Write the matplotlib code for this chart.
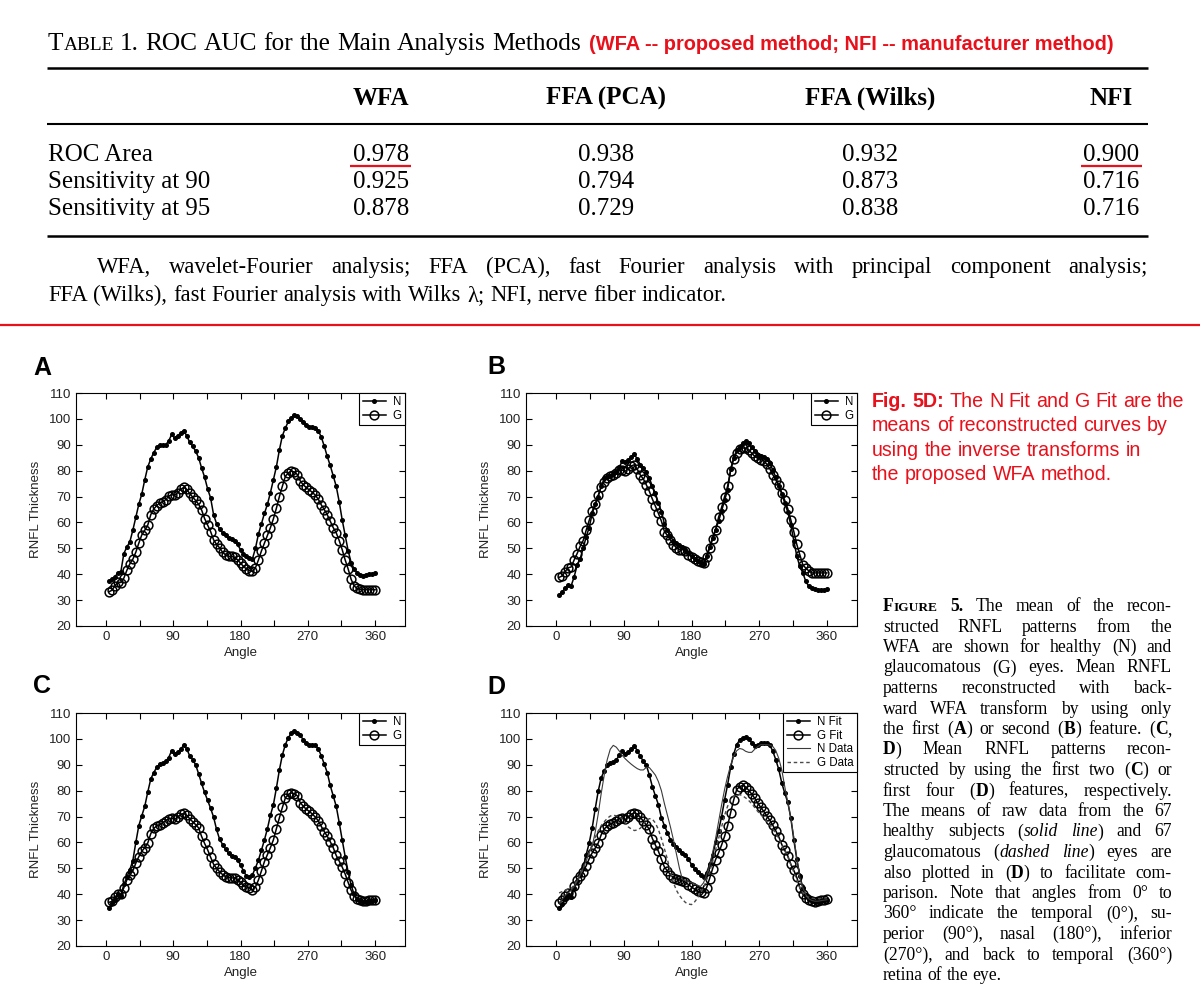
#!/usr/bin/env python
"""Table 1 (ROC AUC) and Figure 5 (mean reconstructed RNFL patterns)."""
import re

import matplotlib
matplotlib.use("Agg")
import matplotlib.pyplot as plt
from matplotlib.lines import Line2D
import numpy as np

W, H = 1200, 1000
RED = "#e8101a"
SERIF = "Liberation Serif"
SANS = "Liberation Sans"

# ---- table data ----
COLUMNS = ["WFA", "FFA (PCA)", "FFA (Wilks)", "NFI"]
ROWS = ["ROC Area", "Sensitivity at 90", "Sensitivity at 95"]
VALUES = [[0.978, 0.938, 0.932, 0.900],
          [0.925, 0.794, 0.873, 0.716],
          [0.878, 0.729, 0.838, 0.716]]

# ---- curves, sampled every 4 degrees ----
ANGLE = np.arange(4, 361, 4)
A_N = [37.5, 38, 39, 40.5, 41, 48, 50.5, 52.5, 57, 62,
       67, 71, 76.5, 81.5, 84.5, 87, 89, 89.8, 90, 90,
       91.5, 94, 92.5, 93.5, 94.5, 95.5, 93.5, 91, 89.5, 87.5,
       85, 81, 77.5, 73, 69.5, 63, 59.5, 57.5, 56, 55,
       53.8, 53.5, 53, 51.5, 49.5, 48, 47, 46.3, 46, 50,
       55.5, 59.5, 63.5, 67, 71.5, 76.5, 81.5, 88, 93.5, 96.5,
       99, 100.5, 101.5, 101, 100, 98.8, 97.5, 97, 96.8, 96.5,
       95.5, 93, 89.5, 85.5, 82, 78, 74, 68, 61, 55,
       49, 44.5, 42, 40.5, 39.8, 39.5, 39.8, 40, 40, 40.5]
A_G = [33.2, 33.8, 35.5, 37, 36.8, 38.5, 41.5, 44, 45.8, 48.5,
       52, 55.2, 57, 59, 63, 65.2, 66.5, 67.6, 68, 68.8,
       70.2, 70.7, 70.5, 71.5, 72.8, 73.5, 72.8, 71.2, 69.8, 68.5,
       67, 64.8, 61.5, 59, 56.5, 53.3, 51.5, 50.2, 48.5, 47.5,
       46.9, 46.9, 46.5, 45.6, 44.3, 43, 42, 41.4, 41.1, 42.5,
       45.5, 49, 52, 55, 58, 61.4, 65.5, 70, 74, 77.8,
       79.2, 79.8, 79.5, 78.5, 76, 74.5, 73.5, 72.5, 71.7, 70.5,
       69, 66.8, 65, 63, 60.5, 58, 56, 53, 49.5, 45.5,
       42, 38, 35.5, 34.5, 34.2, 34, 34, 34, 34, 34]
B_N = [32, 33.2, 34.5, 35.7, 35.5, 39, 43.5, 46, 50, 54.5,
       58, 63.5, 67, 70, 74, 77, 77.6, 78, 78.6, 79.4,
       81.5, 83.6, 83.2, 84, 85.2, 86.3, 84.5, 82.3, 81, 79.4,
       77, 74, 71.2, 67.5, 64.2, 59.5, 57, 54.8, 52.7, 52,
       51.2, 50.5, 49.5, 48.2, 47, 46, 45, 44.3, 43.8, 47,
       50.5, 54, 57.2, 60.5, 64.5, 68.5, 72.7, 80.5, 85, 87.8,
       89.2, 90.5, 91.6, 90.5, 89, 87.5, 86.2, 85.8, 85.3, 84.6,
       82.8, 80.3, 77.5, 74.2, 71, 67.5, 64, 59, 53, 47,
       43, 40.5, 37.2, 35.3, 34.5, 34.1, 34, 34, 34, 34.3]
B_G = [38.8, 39.3, 41, 42.5, 42.8, 45.5, 48, 50.8, 53, 57,
       60.8, 64.3, 67, 70.5, 73.8, 75.8, 77, 77.9, 78.3, 79,
       80.2, 80.2, 79.8, 80.8, 81.8, 82.3, 80.5, 78.3, 76.8, 74.5,
       72, 69, 66.3, 63.5, 60.5, 56.5, 55, 53.2, 51.4, 50.3,
       49.5, 49.5, 49, 47.6, 46.7, 45.8, 45, 44.6, 44.4, 46.5,
       50, 53.5, 57.2, 62, 65.8, 70, 74, 80, 84.5, 87,
       88.3, 88.8, 88.6, 88, 86.8, 85.5, 84.8, 84.3, 83.8, 82.6,
       80.8, 78.5, 76.4, 74.3, 71.5, 68.5, 65.3, 61, 56.5, 51.5,
       47.5, 43.7, 42.3, 41.3, 40.5, 40.5, 40.5, 40.5, 40.5, 40.5]
C_N = [34.5, 36.5, 37.8, 39.9, 39.5, 43.8, 46.5, 49.5, 53, 60,
       66.5, 70.3, 74, 79.5, 84.5, 87, 89, 90.2, 90.6, 91.3,
       92.8, 95.5, 94.2, 94.8, 96, 97.5, 96.2, 93.5, 92, 90,
       86.5, 82.8, 79.3, 76.3, 73.2, 69.8, 65, 61.3, 59.2, 57.4,
       55.8, 54.9, 54.5, 53.4, 51.3, 49, 47, 46.5, 47.5, 50.2,
       53.2, 57, 61, 65.3, 70.5, 74.6, 81, 88, 93.8, 97.8,
       100.5, 102.2, 102.9, 102.4, 101.4, 99.6, 98.5, 97.8, 97.8, 97.6,
       96.2, 93.5, 90.3, 87, 82, 78, 74, 67.7, 61, 54.5,
       48.5, 43.5, 39.9, 38.3, 37.4, 36.9, 37, 37.2, 37.5, 37.7]
C_G = [36.9, 37.2, 38.8, 40.2, 39.9, 42.5, 45.5, 47.4, 49, 52,
       54.5, 56.6, 58, 59.8, 63.4, 65.4, 66.4, 66.9, 67.6, 68.4,
       69.2, 69.3, 68.9, 69.8, 70.8, 71.2, 70.5, 69.2, 68, 66.9,
       65.6, 62.3, 59.6, 57.2, 54.3, 51.6, 50, 48.7, 47.6, 46.8,
       46.4, 46.3, 46.3, 45.5, 44.6, 43.4, 42.8, 42.4, 41.7, 42.8,
       45.5, 49, 52.6, 55.3, 58, 61, 65.3, 69.5, 73.5, 77.2,
       78.6, 79.1, 78.8, 78, 75.3, 74, 72.8, 72, 71, 69.8,
       68.4, 66.2, 64.2, 62.4, 60.3, 58, 55, 52.8, 50.5, 47.8,
       44.5, 41.5, 39.4, 38.2, 37.6, 37.3, 37.4, 37.6, 37.8, 37.9]
D_NFIT = [34.6, 36.2, 38, 39.5, 38.8, 42.5, 45.2, 47.5, 50.2, 55.3,
          59.8, 65.6, 73, 79.8, 85, 87.7, 89.8, 90.6, 91, 91.8,
          93.8, 95.3, 94.2, 94.8, 96, 97.2, 95.5, 93.2, 91.4, 89.8,
          86, 81.5, 78, 74.6, 69.5, 66.5, 63.8, 61, 59.5, 58.2,
          57, 56.1, 55.2, 53.6, 51.4, 49.9, 48.6, 47.6, 46.6, 48.2,
          51.5, 55, 60, 64.5, 70, 76.5, 82.3, 89, 94, 97.8,
          99.5, 100.4, 100.7, 100, 98.6, 97.4, 97.6, 98.4, 98.6, 98.3,
          97.6, 95.3, 92, 88.2, 83, 79, 75.5, 69.5, 61, 53.5,
          47, 42.5, 39.6, 38.2, 37.4, 36.9, 37.1, 37.4, 37.6, 37.9]
D_GFIT = [36.6, 37.7, 39.2, 40.4, 39.9, 43, 45.4, 47, 48.7, 51,
          53.7, 56, 57.8, 59.8, 63, 65.2, 66.3, 67, 67.6, 68.3,
          69.2, 69.3, 68.9, 69.8, 70.9, 71.4, 71, 69.7, 68.2, 66.7,
          65, 61.5, 59, 56.6, 53.5, 50.5, 49, 47.6, 46.3, 45.9,
          45.5, 45.2, 44.6, 43.7, 42.8, 42, 41.1, 40.8, 40.6, 42.5,
          46, 49.8, 53.4, 56, 59, 62.4, 66.5, 71.5, 76.3, 80.4,
          81.6, 82, 81.4, 80.2, 78.7, 77.1, 75.2, 73.6, 72, 70.3,
          68.6, 66.7, 64.5, 62.2, 59.2, 57, 54.8, 51.6, 49.2, 46.5,
          42.5, 40, 38.5, 37.6, 37.2, 36.9, 37.2, 37.6, 37.9, 38.2]
D_NDATA = [36.5, 38, 39.5, 40.5, 41.5, 43, 45, 47.5, 50, 53,
           56, 58.5, 64, 71, 79, 86, 92, 96, 97.5, 96.8,
           95.3, 93.6, 92.3, 91.2, 90.2, 89.3, 88.5, 88, 88, 89,
           88.9, 87.5, 86, 83.5, 80, 75, 70.5, 66, 61, 55.5,
           50, 45.6, 45.2, 44.8, 44.4, 44, 43.5, 43, 44.4, 47.5,
           51, 56, 61.5, 68, 74.5, 80.5, 85.5, 89.8, 93.2, 95.4,
           96.3, 96, 95.2, 94.8, 94.8, 96, 97, 97.8, 97.8, 97.8,
           97.6, 97.1, 95.5, 92.5, 88, 81.5, 75.5, 69.5, 62, 54,
           46.5, 42.5, 39.8, 38.2, 37.6, 37.3, 37.3, 37.5, 37.7, 37.9]
D_GDATA = [40.5, 41, 41.5, 42, 42.3, 43.5, 45.5, 47.5, 50, 53,
           56, 59, 62, 64.5, 66.5, 68, 69.3, 70.2, 70.5, 70.3,
           70, 69, 67.5, 66, 65.2, 64.6, 64.8, 65.5, 67, 68.5,
           69.2, 69, 67.5, 65, 61.5, 57.5, 53.5, 48.5, 44.4, 41.5,
           39.5, 38, 36.8, 36.2, 36, 37, 38.5, 40.5, 42.5, 45.5,
           48.5, 52.5, 57.2, 61.5, 66, 70.5, 74, 76.5, 77.8, 78.3,
           78.5, 78, 77.2, 76.2, 75, 73.5, 72, 70.8, 69.5, 68.2,
           66.8, 65.2, 63.5, 61.5, 59, 56.8, 54.5, 51.5, 48.5, 45.5,
           42.5, 40.5, 39.3, 38.8, 38.5, 38.3, 38.3, 38.4, 38.5, 38.6]

# ---- texts (* bold, _ italic, ^ small caps, ~ bold small caps) ----
TABLE_TITLE = "T^ABLE^ 1. ROC AUC for the Main Analysis Methods"
TABLE_NOTE_RED = "(WFA -- proposed method; NFI -- manufacturer method)"
TABLE_FOOT = ["WFA, wavelet-Fourier analysis; FFA (PCA), fast Fourier analysis "
              "with principal component analysis;",
              "FFA (Wilks), fast Fourier analysis with Wilks \u03bb; NFI, nerve fiber indicator."]
RED_NOTE = ["*Fig.* *5D:* The N Fit and G Fit are the",
            "means of reconstructed curves by",
            "using the inverse transforms in",
            "the proposed WFA method."]
CAPTION = ["*F*~IGURE~ *5.* The mean of the recon-",
           "structed RNFL patterns from the",
           "WFA are shown for healthy (N) and",
           "glaucomatous (G) eyes. Mean RNFL",
           "patterns reconstructed with back-",
           "ward WFA transform by using only",
           "the first (*A*) or second (*B*) feature. (*C*,",
           "*D*) Mean RNFL patterns recon-",
           "structed by using the first two (*C*) or",
           "first four (*D*) features, respectively.",
           "The means of raw data from the 67",
           "healthy subjects (_solid_ _line_) and 67",
           "glaucomatous (_dashed_ _line_) eyes are",
           "also plotted in (*D*) to facilitate com-",
           "parison. Note that angles from 0\u00b0 to",
           "360\u00b0 indicate the temporal (0\u00b0), su-",
           "perior (90\u00b0), nasal (180\u00b0), inferior",
           "(270\u00b0), and back to temporal (360\u00b0)",
           "retina of the eye."]

fig = plt.figure(figsize=(W / 100, H / 100), dpi=100)
R = fig.canvas.get_renderer()
TOKEN = re.compile(r"(\*[^*]+\*|_[^_]+_|~[^~]+~|\^[^^]+\^)")


def put(x, y, s, **kw):
    # x, y in pixels measured from the top-left corner
    return fig.text(x / W, 1 - y / H, s, **kw)


def hline(x0, x1, y, lw, color="k"):
    fig.add_artist(Line2D([x0 / W, x1 / W], [1 - y / H] * 2, lw=lw,
                          color=color, solid_capstyle="butt"))


def adv(s, **kw):
    a = fig.text(0, 0, "|" + s + "|", **kw)
    b = fig.text(0, 0, "||", **kw)
    w = a.get_window_extent(R).width - b.get_window_extent(R).width
    a.remove(); b.remove()
    return w


def segments(word):
    out = []
    for part in TOKEN.split(word):
        if not part:
            continue
        if part[0] == "*":
            out.append((part[1:-1], {"fontweight": "bold"}))
        elif part[0] == "_":
            out.append((part[1:-1], {"fontstyle": "italic"}))
        elif part[0] == "~":
            out.append((part[1:-1], {"fontweight": "bold", "scale": 0.76}))
        elif part[0] == "^":
            out.append((part[1:-1], {"scale": 0.76}))
        else:
            out.append((part, {}))
    return out


def run(x, y, line, size, family, x1=None, **kw):
    """Draw a line of words; spread them out to end at x1 if given."""
    items = []
    for w in line.split():
        segs = []
        for s, st in segments(w):
            props = dict(fontsize=size * st.pop("scale", 1.0), family=family, **st, **kw)
            segs.append((s, props, adv(s, **props)))
        items.append(segs)
    total = sum(p[2] for segs in items for p in segs)
    if x1 is not None and len(items) > 1:
        gap = (x1 - x - total) / (len(items) - 1)
    else:
        gap = adv(" ", fontsize=size, family=family)
    cx = x
    for segs in items:
        for s, props, wd in segs:
            put(cx, y, s, va="baseline", **props)
            cx += wd
        cx += gap
    return cx


# ---------------- table ----------------
run(48, 50, TABLE_TITLE, 18.3, SERIF)
put(589, 50, TABLE_NOTE_RED, fontsize=14.4, family=SANS, fontweight="bold",
    color=RED, va="baseline")
hline(47, 1148, 68, 1.8)
COL_X = [381, 606, 870, 1111]
for cx, name in zip(COL_X, COLUMNS):
    put(cx, 105, name, fontsize=18, family=SERIF, fontweight="bold",
        ha="center", va="baseline")
hline(47, 1148, 124, 1.5)
ROW_Y = [161, 188, 215]
for ry, name, vals in zip(ROW_Y, ROWS, VALUES):
    put(48, ry, name, fontsize=18, family=SERIF, va="baseline")
    for cx, v in zip(COL_X, vals):
        put(cx, ry, f"{v:.3f}", fontsize=18, family=SERIF, ha="center", va="baseline")
hline(350, 411, 166, 1.6, RED)
hline(1081, 1142, 166, 1.6, RED)
hline(47, 1148, 236, 1.8)
run(97, 273, TABLE_FOOT[0], 16.3, SERIF, x1=1148)
run(48, 301, TABLE_FOOT[1], 16.3, SERIF)
hline(0, W, 325, 1.6, RED)

# ---------------- figure 5 ----------------
PANELS = [
    ("A", (76, 393, 405, 626), (33, 375),
     [(A_N, "N", "nfit"), (A_G, "G", "gfit")]),
    ("B", (526, 393, 857, 626), (487, 374),
     [(B_N, "N", "nfit"), (B_G, "G", "gfit")]),
    ("C", (76, 713, 405, 946), (33, 693),
     [(C_N, "N", "nfit"), (C_G, "G", "gfit")]),
    ("D", (526, 713, 857, 946), (487, 694),
     [(D_NFIT, "N Fit", "nfit"), (D_GFIT, "G Fit", "gfit"),
      (D_NDATA, "N Data", "ndata"), (D_GDATA, "G Data", "gdata")]),
]
STYLES = {
    "nfit": dict(color="k", lw=1.1, marker="o", ms=2.6, mfc="k", mec="k", zorder=4),
    "gfit": dict(color="k", lw=1.1, marker="o", ms=6.3, mfc="none", mec="k",
                 mew=1.1, zorder=3),
    "ndata": dict(color="#3a3a3a", lw=0.8, zorder=5),
    "gdata": dict(color="#4a4a4a", lw=1.0, ls=(0, (2.5, 2)), zorder=5),
}

for letter, (l, t, r, b), (lx, ly), series in PANELS:
    ax = fig.add_axes([l / W, 1 - b / H, (r - l) / W, (b - t) / H])
    for vals, label, kind in series:
        ax.plot(ANGLE, vals, label=label, **STYLES[kind])
    ax.set_xlim(-40, 400)
    ax.set_ylim(20, 110)
    ticks = np.arange(0, 361, 45)
    ax.set_xticks(ticks)
    ax.set_xticklabels([str(v) if v % 90 == 0 else "" for v in ticks])
    ax.set_yticks(np.arange(20, 111, 10))
    ax.tick_params(direction="in", length=4, width=0.8, top=True, right=True,
                   labelsize=9.5, labelcolor="#222222", pad=3.5)
    for sp in ax.spines.values():
        sp.set_linewidth(0.8)
    for tl in ax.get_xticklabels() + ax.get_yticklabels():
        tl.set_family(SANS)
    ax.set_xlabel("Angle", fontsize=9.5, family=SANS, color="#222222", labelpad=3)
    ax.set_ylabel("RNFL Thickness", fontsize=9.5, family=SANS, color="#222222",
                  labelpad=5)
    leg = ax.legend(loc="upper right", borderaxespad=0, fancybox=False,
                    edgecolor="k", framealpha=1, prop={"family": SANS, "size": 8.3},
                    handlelength=2.0, handletextpad=0.6, borderpad=0.3,
                    labelspacing=0.12)
    leg.get_frame().set_linewidth(0.8)
    put(lx, ly, letter, fontsize=18, family=SANS, fontweight="bold", va="baseline")

# ---------------- side notes ----------------
for i, line in enumerate(RED_NOTE):
    run(872, 407 + i * 24.3, line, 14.1, SANS, color=RED)

for i, line in enumerate(CAPTION):
    last = i == len(CAPTION) - 1
    run(883, 611 + i * 20.5, line, 12.7, SERIF, x1=None if last else 1172)

fig.savefig("out.png", dpi=100)
print("wrote out.png")
